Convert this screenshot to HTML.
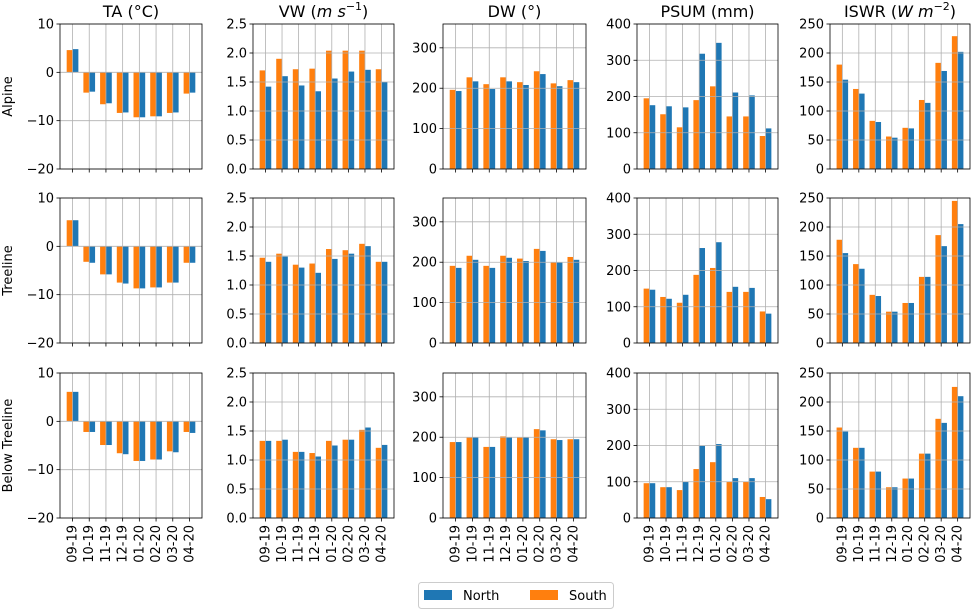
<!DOCTYPE html>
<html><head><meta charset="utf-8"><style>
html,body{margin:0;padding:0;background:#fff;}
svg{display:block;font-family:"DejaVu Sans","Liberation Sans",sans-serif;}
</style></head><body>
<svg id="chart" width="973" height="610" viewBox="0 0 973 610" xmlns="http://www.w3.org/2000/svg"></svg>
<script>
const categories = ["09-19","10-19","11-19","12-19","01-20","02-20","03-20","04-20"];
const rowNames = ["Alpine","Treeline","Below Treeline"];
const varNames = ["TA","VW","DW","PSUM","ISWR"];
const titles = ["TA (°C)","VW","DW (°)","PSUM (mm)","ISWR"];
const yMins = [-20,0,0,0,0];
const yMaxs = [10,2.5,359,400,250];
const yTicksTA = [-20,-10,0,10];
const yTicksVW = [0,0.5,1,1.5,2,2.5];
const yTicksDW = [0,100,200,300];
const yTicksPSUM = [0,100,200,300,400];
const yTicksISWR = [0,50,100,150,200,250];
const yTickLabelsVW = ["0.0","0.5","1.0","1.5","2.0","2.5"];
// Alpine
const southTA_A = [4.6,-4.2,-6.6,-8.4,-9.3,-9.1,-8.4,-4.4];
const northTA_A = [4.8,-4.0,-6.4,-8.3,-9.3,-9.1,-8.3,-4.2];
const southVW_A = [1.70,1.90,1.72,1.73,2.04,2.04,2.04,1.72];
const northVW_A = [1.42,1.60,1.44,1.34,1.56,1.68,1.71,1.50];
const southDW_A = [196,227,210,227,215,242,212,220];
const northDW_A = [193,217,198,217,208,235,205,215];
const southPSUM_A = [195,151,115,190,228,145,145,91];
const northPSUM_A = [176,173,170,318,348,211,203,112];
const southISWR_A = [180,138,83,56,71,119,183,229];
const northISWR_A = [154,130,81,54,70,114,169,202];
// Treeline
const southTA_T = [5.4,-3.2,-5.8,-7.5,-8.7,-8.5,-7.5,-3.4];
const northTA_T = [5.4,-3.4,-5.8,-7.7,-8.7,-8.5,-7.5,-3.4];
const southVW_T = [1.47,1.54,1.35,1.37,1.62,1.60,1.71,1.40];
const northVW_T = [1.40,1.49,1.30,1.21,1.45,1.54,1.67,1.40];
const southDW_T = [191,216,191,216,209,233,199,213];
const northDW_T = [186,206,186,211,203,228,199,206];
const southPSUM_T = [150,127,111,188,207,141,141,87];
const northPSUM_T = [147,122,133,262,278,155,152,81];
const southISWR_T = [178,136,83,54,69,114,186,245];
const northISWR_T = [155,128,81,54,69,114,167,205];
// Below Treeline
const southTA_B = [6.1,-2.2,-4.9,-6.6,-8.2,-7.9,-6.2,-2.2];
const northTA_B = [6.1,-2.2,-4.9,-6.8,-8.2,-7.9,-6.4,-2.4];
const southVW_B = [1.33,1.33,1.14,1.12,1.33,1.35,1.52,1.21];
const northVW_B = [1.33,1.35,1.14,1.06,1.25,1.35,1.56,1.26];
const southDW_B = [188,199,176,202,199,220,195,195];
const northDW_B = [188,199,176,199,199,217,193,195];
const southPSUM_B = [96,85,77,135,154,100,100,58];
const northPSUM_B = [96,85,100,199,204,110,110,52];
const southISWR_B = [156,121,80,53,68,111,171,226];
const northISWR_B = [149,121,80,53,68,111,164,210];

const south = [[southTA_A,southVW_A,southDW_A,southPSUM_A,southISWR_A],[southTA_T,southVW_T,southDW_T,southPSUM_T,southISWR_T],[southTA_B,southVW_B,southDW_B,southPSUM_B,southISWR_B]];
const north = [[northTA_A,northVW_A,northDW_A,northPSUM_A,northISWR_A],[northTA_T,northVW_T,northDW_T,northPSUM_T,northISWR_T],[northTA_B,northVW_B,northDW_B,northPSUM_B,northISWR_B]];
const yTicks = [yTicksTA,yTicksVW,yTicksDW,yTicksPSUM,yTicksISWR];

const NS="http://www.w3.org/2000/svg";
const svg=document.getElementById('chart');
const colX=[[60,202],[253,394],[443,586],[637,778],[830,970]];
const rowY=[[24,169],[198,343],[373,518]];
const ORANGE="#ff7f0e", BLUE="#1f77b4", GRID="#b0b0b0";
function mk(tag,attrs,parent){const e=document.createElementNS(NS,tag);for(const k in attrs)e.setAttribute(k,attrs[k]);(parent||svg).appendChild(e);return e;}

for(let c=0;c<5;c++){
  const t=mk('text',{x:(colX[c][0]+colX[c][1])/2,y:17,'text-anchor':'middle','font-size':'16',fill:'#000'});
  
  
  if(c===1){t.innerHTML='VW (<tspan font-style="italic">m s</tspan><tspan font-size="11" dy="-7">−1</tspan><tspan dy="7">)</tspan>';}
  else if(c===4){t.innerHTML='ISWR (<tspan font-style="italic">W m</tspan><tspan font-size="11" dy="-7">−2</tspan><tspan dy="7">)</tspan>';}
  else t.textContent=titles[c];
}
for(let r=0;r<3;r++){
  const cy=(rowY[r][0]+rowY[r][1])/2;
  const t=mk('text',{x:12,y:cy,'text-anchor':'middle','font-size':'13',transform:`rotate(-90 12 ${cy})`});
  
  
  t.textContent=rowNames[r];
}

for(let r=0;r<3;r++){
  for(let c=0;c<5;c++){
    const [x0,x1]=colX[c],[y0,y1]=rowY[r];
    const g=mk('g',{});
    
    
    const lo=yMins[c],hi=yMaxs[c];
    const yS=v=>y1-(v-lo)/(hi-lo)*(y1-y0);
    const unit=(x1-x0)/8.5;
    const xS=i=>x0+(i+0.75)*unit;
    const bw=0.35*unit;
    const base=yS(Math.max(lo,0));
    for(let i=0;i<categories.length;i++){
      const vs=south[r][c][i], vn=north[r][c][i];
      const ys=yS(vs), yn=yS(vn);
      const bs=mk('rect',{x:xS(i)-bw,y:Math.min(ys,base),width:bw,height:Math.abs(base-ys),fill:ORANGE},g);
      
      
      const bn=mk('rect',{x:xS(i),y:Math.min(yn,base),width:bw,height:Math.abs(base-yn),fill:BLUE},g);
      
      
    }
    for(let i=0;i<categories.length;i++){
      mk('line',{x1:xS(i),x2:xS(i),y1:y0,y2:y1,stroke:GRID,'stroke-width':0.8},g);
      mk('line',{x1:xS(i),x2:xS(i),y1:y1,y2:y1+3.5,stroke:'#000','stroke-width':0.8},g);
      if(r===2){
        const tx=xS(i)+4, ty=y1+7;
        const t=mk('text',{x:tx,y:ty,'text-anchor':'end','font-size':'13',transform:`rotate(-90 ${tx} ${ty})`},g);
        
        
        t.textContent=categories[i];
      }
    }
    const ticks=yTicks[c];
    for(let k=0;k<ticks.length;k++){
      const v=ticks[k], y=yS(v);
      mk('line',{x1:x0,x2:x1,y1:y,y2:y,stroke:GRID,'stroke-width':0.8},g);
      mk('line',{x1:x0-3.5,x2:x0,y1:y,y2:y,stroke:'#000','stroke-width':0.8},g);
      const t=mk('text',{x:x0-6,y:y+4.5,'text-anchor':'end','font-size':'13'},g);
      
      
      t.textContent = c===1 ? yTickLabelsVW[k] : (v<0 ? '−'+Math.abs(v) : String(v));
    }
    mk('rect',{x:x0,y:y0,width:x1-x0,height:y1-y0,fill:'none',stroke:'#000','stroke-width':0.8},g);
  }
}
const lg=mk('g',{});


mk('rect',{x:418.5,y:582.5,width:195,height:26,rx:3,fill:'#fff',stroke:'#ccc'},lg);
mk('rect',{x:424,y:590,width:28,height:10,fill:BLUE},lg);
const tn=mk('text',{x:463,y:600,'font-size':'13'},lg);


tn.textContent='North';
mk('rect',{x:530,y:590,width:28,height:10,fill:ORANGE},lg);
const ts=mk('text',{x:569,y:600,'font-size':'13'},lg);


ts.textContent='South';
</script>
</body></html>
